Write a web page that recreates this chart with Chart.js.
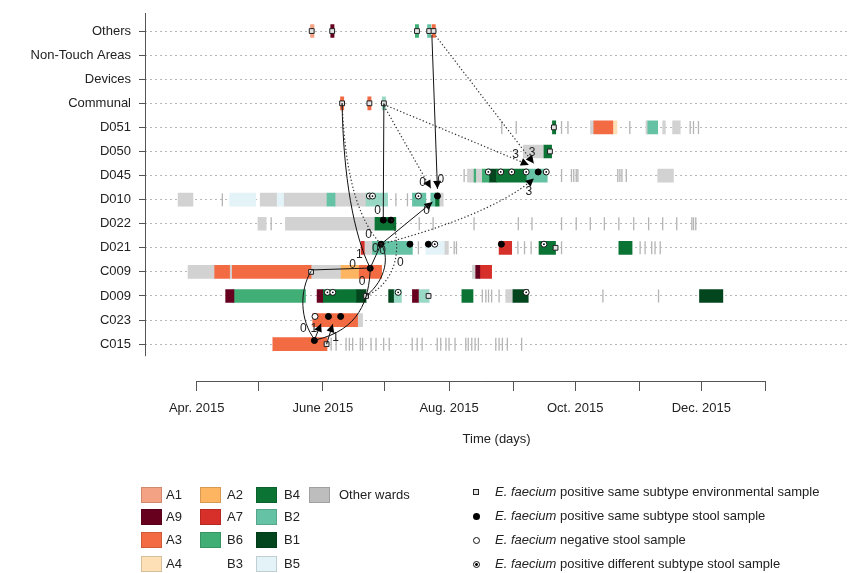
<!DOCTYPE html>
<html>
<head>
<meta charset="utf-8">
<script src="https://cdn.jsdelivr.net/npm/chart.js@4.4.0/dist/chart.umd.min.js"></script>
<style>
body { margin: 0; background: #fff; font-family: "Liberation Sans", Arial, sans-serif; }
#wrap { position: relative; width: 856px; height: 573px; }
.sw { position: absolute; width: 21px; height: 16px; box-sizing: border-box; border: 1px solid rgba(0,0,0,0.15); }
.lt { position: absolute; font-size: 13px; color: #222; line-height: 16px; white-space: nowrap; }
.mk { position: absolute; box-sizing: border-box; }
</style>
</head>
<body>
<div id="wrap">
  <canvas id="myChart"></canvas>
  <div id="legend"></div>
</div>
<script>
// rows of the plot, top to bottom
var rows = ['Others', 'Non-Touch Areas', 'Devices', 'Communal', 'D051', 'D050', 'D045',
            'D010', 'D022', 'D021', 'C009', 'D009', 'C023', 'C015'];

// days counted from 1 April 2015
var monthTicks = [0, 30, 61, 91, 122, 153, 183, 214, 244, 275];
var monthLabels = ['Apr. 2015', '', 'June 2015', '', 'Aug. 2015', '', 'Oct. 2015', '', 'Dec. 2015', ''];

// ward stays: [row, first day, last day]
var stayA1 = [['Others', 55, 56.7]];
var stayA9 = [['Others', 64.8, 66.4], ['D009', 14, 18], ['D009', 58.2, 60.9], ['D009', 104.3, 107.2],
              ['C009', 134.9, 136.9]];
var stayA3 = [['Others', 113.8, 115.4], ['Communal', 69.5, 71.1], ['Communal', 82.7, 84.3],
              ['D051', 192, 201.2], ['C009', 8.7, 15.9], ['C009', 17.2, 55.3], ['C009', 78.6, 89.4],
              ['C023', 56.1, 77.8], ['C015', 36.8, 63]];
var stayA4 = [['D051', 201.2, 203.2]];
var stayA2 = [['C009', 69.8, 78.6]];
var stayA7 = [['D021', 79.5, 81], ['D021', 146.2, 152.3], ['C009', 136.9, 142.6]];
var stayB6 = [['Others', 105.7, 107.3], ['D045', 134.1, 134.9], ['D045', 138.1, 141.3], ['D009', 18, 52.6]];
var stayB4 = [['D051', 172, 173.6], ['D050', 167.9, 171.6], ['D045', 144.9, 159.3], ['D022', 86.2, 96.3],
              ['D010', 115.5, 117.2], ['D021', 165.5, 173.5], ['D021', 204.1, 210.5], ['D009', 60.9, 77],
              ['D009', 128.2, 133.6]];
var stayB2 = [['Others', 111.6, 113.2], ['D045', 159.3, 169.5], ['D051', 218.1, 222.9], ['D010', 63, 66.9],
              ['D010', 104.3, 110.8], ['D010', 113.2, 115.5], ['D021', 85, 104.3]];
var stayB1 = [['D045', 141.3, 144.9], ['D009', 77, 81.9], ['D009', 92.8, 95.5], ['D009', 152.9, 160.3],
              ['D009', 243.1, 254.4]];
var stayB3 = [['Communal', 89.7, 91.3], ['D010', 81.9, 92.3], ['D009', 95.5, 99], ['D009', 107.2, 112.4]];
var stayB5 = [['D010', 15.9, 28.5], ['D010', 38.9, 42], ['D021', 110.8, 119.7]];
var stayOther = [['D051', 190.4, 192], ['D051', 217.2, 218.1], ['D051', 225.3, 226.6], ['D051', 230.1, 233.8],
                 ['D050', 157.9, 167.9], ['D045', 130.9, 134.1], ['D045', 134.9, 138.1], ['D045', 222.9, 230.5],
                 ['D010', -9, -1.8], ['D010', 30.7, 38.9], ['D010', 42, 63], ['D010', 66.9, 81.9],
                 ['D010', 117.2, 119.2], ['D022', 29.6, 33.6], ['D022', 42.9, 86.2], ['D021', 81, 85],
                 ['D021', 119.7, 121.7], ['C009', -4.2, 8.7], ['C009', 15.9, 17.2], ['C009', 55.3, 69.8],
                 ['C009', 133.3, 134.9], ['D009', 149.4, 152.9], ['C023', 77.8, 80.2]];

// one-day visits to other wards: [row, day]
var visits = [
  ['D051', 147.5], ['D051', 154.5], ['D051', 176.4], ['D051', 179.5], ['D051', 209.4], ['D051', 238.6],
  ['D051', 240.2], ['D051', 242.6],
  ['D045', 129.3], ['D045', 176.4], ['D045', 181.2], ['D045', 182.3], ['D045', 183.5], ['D045', 184.3],
  ['D045', 203.6], ['D045', 204.6], ['D045', 205.6], ['D045', 207.7],
  ['D010', 12.4], ['D010', 96.3], ['D010', 101.9],
  ['D022', 36], ['D022', 107.6], ['D022', 114.3], ['D022', 134.1], ['D022', 155.5], ['D022', 162.1],
  ['D022', 176.4], ['D022', 183.5], ['D022', 190.3], ['D022', 197.1], ['D022', 204.1], ['D022', 211.3],
  ['D022', 218.5], ['D022', 225.3], ['D022', 232.1], ['D022', 239.4], ['D022', 240.2], ['D022', 241.3],
  ['D021', 107.2], ['D021', 124.5], ['D021', 125.6], ['D021', 155.3], ['D021', 158.5], ['D021', 161.7],
  ['D021', 176.4], ['D021', 214.4], ['D021', 216.8], ['D021', 220], ['D021', 221.6], ['D021', 224.1],
  ['D009', 138.1], ['D009', 139.8], ['D009', 141.1], ['D009', 142.6], ['D009', 146.2], ['D009', 196.4],
  ['D009', 223.3],
  ['C015', 65], ['C015', 67.4], ['C015', 72.2], ['C015', 73.8], ['C015', 75.4], ['C015', 79.1], ['C015', 80.2],
  ['C015', 84.3], ['C015', 86.7], ['C015', 90.4], ['C015', 93.1], ['C015', 104.2], ['C015', 106.6],
  ['C015', 109], ['C015', 116.3], ['C015', 118], ['C015', 120.5], ['C015', 122], ['C015', 124.9],
  ['C015', 130.1], ['C015', 131.3], ['C015', 133], ['C015', 134.6], ['C015', 136.2], ['C015', 144.6],
  ['C015', 146.2], ['C015', 147.8], ['C015', 150.2], ['C015', 157.1]
];

// samples: [row, day]
var envSamples = [['Others', 55.6], ['Others', 65.5], ['Others', 106.5], ['Others', 112.4], ['Others', 114.5],
                  ['Communal', 70.3], ['Communal', 83.5], ['Communal', 90.5], ['D051', 172.7], ['D050', 170.8],
                  ['C009', 55.3], ['D009', 81.9], ['D009', 112.1], ['C015', 62.8], ['D021', 173.5]];
var stoolSame = [['C015', 56.9], ['C023', 63.7], ['C023', 69.6], ['C009', 83.9], ['D022', 90.2], ['D022', 93.9],
                 ['D021', 89.1], ['D021', 103.1], ['D021', 112], ['D021', 147.3], ['D010', 116.4], ['D045', 165.1]];
var stoolNegative = [['C023', 57.2]];
var stoolOther = [['D010', 83.5], ['D010', 85], ['D010', 107.2], ['D021', 115.1], ['D021', 167.9],
                  ['D009', 63.2], ['D009', 65.8], ['D009', 97.4], ['D009', 159.3],
                  ['D045', 141], ['D045', 147], ['D045', 152.3], ['D045', 159.3], ['D045', 169]];

// transmission links: from / to as [day, row position], optional bend points, label and its place
var solidLinks = [
  {from: [56.9, 12.83], to: [60.1, 12.15], head: true, label: '1', at: [56.6, 12.35]},
  {from: [62.8, 13], to: [65.8, 12.17], head: true, label: '1', at: [67.1, 12.72]},
  {from: [57.2, 12.83], via: [[49.7, 12], [49.7, 10.76]], to: [55.3, 9.97], label: '0', at: [51.6, 12.37]},
  {from: [57.2, 12.83], via: [[78.6, 12.42], [83.4, 11.17]], to: [83.9, 9.84], label: '0', at: [80, 10.4]},
  {from: [55.3, 9.92], to: [83.9, 9.84], label: '0', at: [75.4, 9.69]},
  {from: [83.9, 9.84], to: [89.1, 8.85], label: '0', at: [86.4, 9.05]},
  {from: [70.3, 3], via: [[70.8, 6], [76, 8.5]], to: [83.9, 9.84], label: '1', at: [78.6, 9.3]},
  {from: [90.5, 3], to: [90.2, 7.77], label: '0', at: [87.4, 7.47]},
  {from: [89.1, 8.85], to: [114, 7.1], head: true, label: '0', at: [111.1, 7.47]},
  {from: [113.7, 0.17], to: [116.4, 6.55], head: true, label: '0', at: [118, 6.16]},
  {from: [81.9, 11], via: [[92, 10.3], [93, 9.3]], to: [89.1, 8.85], label: '0', at: [89.9, 9.12]}
];
var dottedLinks = [
  {from: [70.3, 3], via: [[72, 6.5], [80, 8]], to: [89.1, 8.85], label: '0', at: [83.1, 8.47]},
  {from: [89.1, 8.85], via: [[115.6, 8.26], [147.8, 7.3]], to: [163, 6.12], head: true, label: '3', at: [160.6, 6.67]},
  {from: [90.5, 3.1], to: [113.2, 6.53], head: true, label: '0', at: [109.2, 6.3]},
  {from: [90.5, 3.05], to: [160.6, 5.56], head: true, label: '3', at: [154.2, 5.15]},
  {from: [114.5, 0.08], to: [163, 5.5], head: true, label: '3', at: [162.2, 5.05]},
  {from: [81.9, 11], via: [[100, 10.3], [98, 8.5]], to: [93.9, 7.77], label: '0', at: [98.4, 9.62]}
];

var wardColors = {
  A1: '#f3a283', A9: '#67001f', A3: '#f26b43', A4: '#fde0b6', A2: '#fdb562', A7: '#d7302a',
  B6: '#41ae76', B3: '#9ad8c6', B4: '#0b7434', B2: '#66c2a4', B1: '#03461e', B5: '#e3f3f8',
  Other: '#d2d2d2'
};

function bars(list, color) {
  return {
    type: 'bar', indexAxis: 'y', order: 3,
    data: list.map(function (s) { return {y: rows.indexOf(s[0]), x: [s[1], s[2]]}; }),
    backgroundColor: color, borderWidth: 0, barThickness: 13, grouped: false
  };
}
function marks(list, lift, opts) {
  return Object.assign({
    type: 'scatter', order: 1,
    data: list.map(function (p) { return {x: p[1], y: rows.indexOf(p[0]) + lift}; })
  }, opts);
}

var datasets = [
  marks(stoolOther, -0.15, {pointStyle: 'circle', pointRadius: 0.9, backgroundColor: '#000', borderWidth: 0, order: 0}),
  marks(stoolOther, -0.15, {pointStyle: 'circle', pointRadius: 3, backgroundColor: '#fff', borderColor: '#111', borderWidth: 1}),
  marks(stoolNegative, -0.15, {pointStyle: 'circle', pointRadius: 3, backgroundColor: '#fff', borderColor: '#111', borderWidth: 1}),
  marks(stoolSame, -0.15, {pointStyle: 'circle', pointRadius: 3, backgroundColor: '#000', borderColor: '#000', borderWidth: 1}),
  marks(envSamples, 0, {pointStyle: 'rect', pointRadius: 3.4, backgroundColor: '#e4e4e4', borderColor: '#222', borderWidth: 1}),
  marks(visits, 0, {pointStyle: 'line', rotation: 90, pointRadius: 6.5, borderColor: '#b4b4b4', borderWidth: 1.3, order: 2}),
  bars(stayA1, wardColors.A1), bars(stayA9, wardColors.A9), bars(stayA3, wardColors.A3),
  bars(stayA4, wardColors.A4), bars(stayA2, wardColors.A2), bars(stayA7, wardColors.A7),
  bars(stayB6, wardColors.B6), bars(stayB3, wardColors.B3), bars(stayB4, wardColors.B4),
  bars(stayB2, wardColors.B2), bars(stayB1, wardColors.B1), bars(stayB5, wardColors.B5),
  bars(stayOther, wardColors.Other)
];

function drawLinks(chart, list, dotted) {
  var ctx = chart.ctx, xs = chart.scales.x, ys = chart.scales.y;
  function px(p) { return [xs.getPixelForValue(p[0]), ys.getPixelForValue(p[1])]; }
  list.forEach(function (l) {
    var a = px(l.from), b = px(l.to), prev = a;
    ctx.save();
    ctx.strokeStyle = dotted ? '#333' : '#111';
    ctx.lineWidth = dotted ? 1.2 : 1;
    ctx.setLineDash(dotted ? [1.3, 2.2] : []);
    ctx.beginPath();
    ctx.moveTo(a[0], a[1]);
    if (l.via) {
      var c1 = px(l.via[0]), c2 = px(l.via[1]);
      ctx.bezierCurveTo(c1[0], c1[1], c2[0], c2[1], b[0], b[1]);
      prev = c2;
    } else {
      ctx.lineTo(b[0], b[1]);
    }
    ctx.stroke();
    ctx.setLineDash([]);
    if (l.head) {
      var ang = Math.atan2(b[1] - prev[1], b[0] - prev[0]), len = 8, w = 4;
      ctx.fillStyle = '#000';
      ctx.beginPath();
      ctx.moveTo(b[0], b[1]);
      ctx.lineTo(b[0] - len * Math.cos(ang) + w * Math.sin(ang), b[1] - len * Math.sin(ang) - w * Math.cos(ang));
      ctx.lineTo(b[0] - len * Math.cos(ang) - w * Math.sin(ang), b[1] - len * Math.sin(ang) + w * Math.cos(ang));
      ctx.closePath();
      ctx.fill();
    }
    if (l.label) {
      var t = px(l.at);
      ctx.fillStyle = '#222';
      ctx.font = '12px "Liberation Sans", Arial, sans-serif';
      ctx.textAlign = 'center';
      ctx.textBaseline = 'middle';
      ctx.fillText(l.label, t[0], t[1]);
    }
    ctx.restore();
  });
}

var axesAndLinks = {
  id: 'axesAndLinks',
  afterDatasetsDraw: function (chart) {
    var ctx = chart.ctx, xs = chart.scales.x, ys = chart.scales.y, area = chart.chartArea;
    drawLinks(chart, solidLinks, false);
    drawLinks(chart, dottedLinks, true);
    ctx.save();
    ctx.strokeStyle = '#555';
    ctx.lineWidth = 1;
    ctx.beginPath();
    ctx.moveTo(xs.getPixelForValue(monthTicks[0]), area.bottom + 0.5);
    ctx.lineTo(xs.getPixelForValue(monthTicks[monthTicks.length - 1]), area.bottom + 0.5);
    ctx.moveTo(area.left + 0.5, area.top - 6);
    ctx.lineTo(area.left + 0.5, ys.getPixelForValue(rows.length - 0.5));
    ctx.stroke();
    ctx.restore();
  }
};

Chart.defaults.font.family = '"Liberation Sans", Arial, sans-serif';
Chart.defaults.font.size = 13;
Chart.defaults.color = '#222';

var ctx = document.getElementById('myChart').getContext('2d');
var myChart = new Chart(ctx, {
  type: 'scatter',
  data: {datasets: datasets},
  options: {
    responsive: true,
    maintainAspectRatio: false,
    animation: false,
    events: [],
    layout: {padding: {top: 19, right: 6, bottom: 0, left: 0}},
    plugins: {legend: {display: false}, tooltip: {enabled: false}},
    scales: {
      x: {
        type: 'linear', min: -25, max: 315, offset: false, beginAtZero: false,
        afterBuildTicks: function (s) { s.ticks = monthTicks.map(function (v) { return {value: v}; }); },
        afterFit: function (s) { s.height = 192; },
        ticks: {
          autoSkip: false, maxRotation: 0, padding: 10, color: '#222',
          callback: function (v) { return monthLabels[monthTicks.indexOf(v)]; }
        },
        grid: {display: true, offset: false, drawOnChartArea: false, drawTicks: true, tickLength: 10, color: '#555'},
        border: {display: false},
        title: {display: true, text: 'Time (days)', color: '#222', font: {size: 13}, padding: {top: 0, bottom: 126}}
      },
      y: {
        type: 'linear', reverse: true, min: -0.5, max: 14.53, offset: false, beginAtZero: false,
        afterBuildTicks: function (s) { s.ticks = rows.map(function (r, i) { return {value: i}; }); },
        afterFit: function (s) { s.width = 145; },
        ticks: {
          padding: 8, color: '#222',
          callback: function (v) { return rows[v]; }
        },
        grid: {offset: false, color: '#b8b8b8', tickColor: '#555', tickLength: 6, lineWidth: 1},
        border: {display: false, dash: [2, 3]}
      }
    }
  },
  plugins: [axesAndLinks]
});

// legend under the chart
var wardLegend = [
  ['A1', 'A1', 141, 495], ['A9', 'A9', 141, 517], ['A3', 'A3', 141, 540], ['A4', 'A4', 141, 564],
  ['A2', 'A2', 200, 495], ['A7', 'A7', 200, 517], ['B6', 'B6', 200, 540], [null, 'B3', 200, 564],
  ['B4', 'B4', 256, 495], ['B2', 'B2', 256, 517], ['B1', 'B1', 256, 540], ['B5', 'B5', 256, 564],
  ['Legend', 'Other wards', 309, 495]
];
var sampleLegend = ['positive same subtype environmental sample', 'positive same subtype stool sample',
                    'negative stool sample', 'positive different subtype stool sample'];

var html = '';
wardLegend.forEach(function (w) {
  var col = w[0] === 'Legend' ? '#bdbdbd' : (w[0] ? wardColors[w[0]] : null);
  if (col) html += '<div class="sw" style="left:' + w[2] + 'px;top:' + (w[3] - 8) + 'px;background:' + col + '"></div>';
  html += '<div class="lt" style="left:' + (w[2] + (w[2] === 141 ? 25 : w[2] === 200 ? 27 : w[2] === 256 ? 28 : 30)) +
          'px;top:' + (w[3] - 8) + 'px">' + w[1] + '</div>';
});
var markStyles = [
  'width:6px;height:6px;border:1px solid #222;background:#e4e4e4;',
  'width:7px;height:7px;border-radius:50%;background:#000;',
  'width:7px;height:7px;border-radius:50%;border:1.2px solid #111;background:#fff;',
  'width:7px;height:7px;border-radius:50%;border:1.2px solid #111;background:radial-gradient(circle,#000 0 1.2px,#fff 1.6px);'
];
var ys = [492, 516, 540, 564];
sampleLegend.forEach(function (t, i) {
  html += '<div class="mk" style="left:' + (476 - (i === 0 ? 3 : 3.5)) + 'px;top:' + (ys[i] - 3.5) + 'px;' + markStyles[i] + '"></div>';
  html += '<div class="lt" style="left:495px;top:' + (ys[i] - 8) + 'px"><i>E. faecium</i> ' + t + '</div>';
});
document.getElementById('legend').innerHTML = html;
</script>
</body>
</html>
